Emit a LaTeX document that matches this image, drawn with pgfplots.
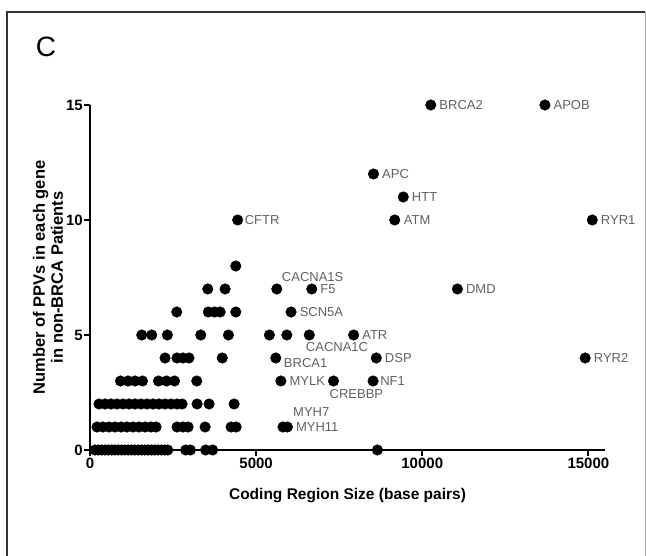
\documentclass[border=0pt]{standalone}
\usepackage{fontspec}
\setmainfont{Liberation Sans}
\usepackage{pgfplots}
\usepackage{pgfplotstable}
\pgfplotsset{compat=1.18}
\definecolor{labgray}{gray}{0.38}
\tikzset{lab/.style={font=\fontsize{13}{13}\selectfont, text=labgray, anchor=base west, inner sep=0pt}}

% coding region size (bp) vs number of PPVs per gene
\pgfplotstableread{
x y
10257 15
13692 15
8532 12
9429 11
4443 10
9171 10
15117 10
4388 8
3545 7
4066 7
5622 7
6675 7
11058 7
2611 6
3562 6
3745 6
3916 6
4388 6
6051 6
1557 5
1858 5
2329 5
3334 5
4166 5
5400 5
5924 5
6600 5
7935 5
2259 4
2620 4
2800 4
2980 4
3980 4
5592 4
8616 4
14904 4
918 3
1144 3
1355 3
1580 3
2062 3
2303 3
2544 3
3213 3
5745 3
7329 3
8520 3
271 2
452 2
633 2
813 2
994 2
1175 2
1355 2
1536 2
1717 2
1898 2
2078 2
2259 2
2440 2
2620 2
2771 2
3223 2
3584 2
4337 2
211 1
392 1
572 1
753 1
934 1
1114 1
1295 1
1476 1
1657 1
1837 1
1988 1
2620 1
2801 1
2952 1
3464 1
4247 1
4398 1
5808 1
5940 1
150 0
250 0
350 0
450 0
550 0
650 0
750 0
850 0
950 0
1050 0
1150 0
1250 0
1350 0
1450 0
1550 0
1650 0
1750 0
1850 0
1950 0
2050 0
2150 0
2250 0
2340 0
2880 0
3020 0
3480 0
3690 0
8650 0
}\ppvdata

\begin{document}
\begin{tikzpicture}
\useasboundingbox (0,0) rectangle (646pt,556pt);
\draw[line width=2.2pt, black!80] (7pt,0) -- (7pt,544pt) -- (645pt,544pt);
\draw[line width=0.8pt, black!35] (645pt,544pt) -- (645pt,0);
\node[font=\fontsize{28}{28}\selectfont] at (46pt,509pt) {C};
\begin{axis}[
  at={(90pt,106pt)}, anchor=south west,
  scale only axis, width=515pt, height=345pt,
  xmin=0, xmax=15500, ymin=0, ymax=15,
  clip=false,
  axis x line*=bottom, axis y line*=left,
  axis line style={line width=2.8pt, -},
  tick style={line width=2.2pt, black},
  tick align=outside, major tick length=6pt,
  xtick={0,5000,10000,15000}, ytick={0,5,10,15},
  scaled x ticks=false,
  /pgf/number format/assume math mode=true,
  xticklabel style={/pgf/number format/1000 sep={}, inner sep=2pt},
  yticklabel style={inner sep=1pt},
  tick label style={font=\fontsize{15}{15}\selectfont\bfseries},
  xlabel={Coding Region Size (base pairs)},
  ylabel={Number of PPVs in each gene\\in non-BRCA Patients},
  xlabel style={font=\fontsize{15.5}{18}\selectfont\bfseries,
    at={(axis description cs:0.5,0)}, anchor=base, yshift=-50pt},
  ylabel style={font=\fontsize{16.5}{18}\selectfont\bfseries,
    at={(axis description cs:-0.0816,0.5)}, anchor=center, align=center},
]
\addplot[only marks, mark=*, mark size=5.3pt, mark options={fill=black, draw=black}] table[x=x, y=y] {\ppvdata};

\node[lab, xshift=8.5pt, yshift=-4.65pt] at (axis cs:10257,15) {BRCA2};
\node[lab, xshift=8.5pt, yshift=-4.65pt] at (axis cs:13692,15) {APOB};
\node[lab, xshift=8.5pt, yshift=-4.65pt] at (axis cs:8532,12) {APC};
\node[lab, xshift=8.5pt, yshift=-4.65pt] at (axis cs:9429,11) {HTT};
\node[lab, xshift=7pt, yshift=-4.65pt] at (axis cs:4443,10) {CFTR};
\node[lab, xshift=9pt, yshift=-4.65pt] at (axis cs:9171,10) {ATM};
\node[lab, xshift=8.5pt, yshift=-4.65pt] at (axis cs:15117,10) {RYR1};
\node[lab, xshift=5pt, yshift=7.4pt] at (axis cs:5622,7) {CACNA1S};
\node[lab, xshift=8.5pt, yshift=-4.65pt] at (axis cs:6675,7) {F5};
\node[lab, xshift=8.5pt, yshift=-4.65pt] at (axis cs:11058,7) {DMD};
\node[lab, xshift=8.5pt, yshift=-4.65pt] at (axis cs:6051,6) {SCN5A};
\node[lab, xshift=8.5pt, yshift=-4.65pt] at (axis cs:7935,5) {ATR};
\node[lab, xshift=-3.5pt, yshift=-16.6pt] at (axis cs:6600,5) {CACNA1C};
\node[lab, xshift=8pt, yshift=-9.3pt] at (axis cs:5592,4) {BRCA1};
\node[lab, xshift=8.5pt, yshift=-4.65pt] at (axis cs:8616,4) {DSP};
\node[lab, xshift=8.5pt, yshift=-4.65pt] at (axis cs:14904,4) {RYR2};
\node[lab, xshift=8.5pt, yshift=-4.65pt] at (axis cs:5745,3) {MYLK};
\node[lab, xshift=-4pt, yshift=-18pt] at (axis cs:7329,3) {CREBBP};
\node[lab, xshift=7pt, yshift=-4.65pt] at (axis cs:8520,3) {NF1};
\node[lab, xshift=10pt, yshift=10.7pt] at (axis cs:5808,1) {MYH7};
\node[lab, xshift=8.5pt, yshift=-4.65pt] at (axis cs:5940,1) {MYH11};
\end{axis}
\end{tikzpicture}
\end{document}
